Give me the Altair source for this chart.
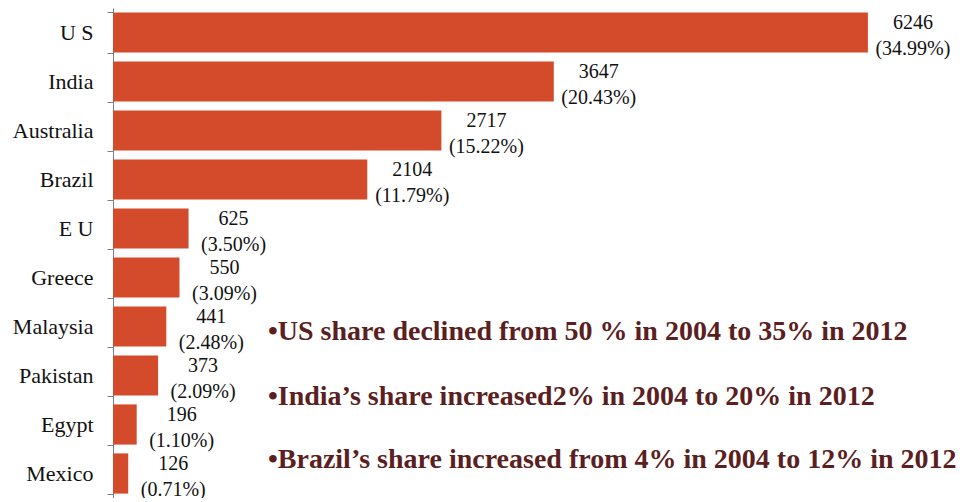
import altair as alt
import pandas as pd

countries = ["U S", "India", "Australia", "Brazil", "E U", "Greece",
             "Malaysia", "Pakistan", "Egypt", "Mexico"]
values = [6246, 3647, 2717, 2104, 625, 550, 441, 373, 196, 126]
shares = ["34.99%", "20.43%", "15.22%", "11.79%", "3.50%", "3.09%",
          "2.48%", "2.09%", "1.10%", "0.71%"]
notes = [
    "•US  share declined from 50 % in 2004 to 35% in 2012",
    "•India’s share increased2% in 2004 to 20% in 2012",
    "•Brazil’s share increased from 4% in 2004 to 12% in 2012",
]
note_y = [332, 397, 460]

df = pd.DataFrame({
    "country": countries,
    "value": values,
    "label": [f"{v}\n({s})" for v, s in zip(values, shares)],
})
notes_df = pd.DataFrame({"note": notes, "py": note_y})

SERIF = "Liberation Serif"

y = alt.Y(
    "country:N", sort=countries,
    scale=alt.Scale(paddingInner=0.18, paddingOuter=0.09),
    axis=alt.Axis(title=None, tickBand="extent", domainColor="#808080",
                  tickColor="#808080", tickSize=6, labelPadding=14,
                  labelFont=SERIF, labelFontSize=22, labelColor="#111111"),
)
x = alt.X("value:Q", scale=alt.Scale(domain=[0, 6950], nice=False), axis=None)

bars = alt.Chart(df).mark_bar(color="#D34B2A").encode(x=x, y=y)

labels = alt.Chart(df).mark_text(
    align="center", baseline="middle", dx=45, dy=-10, lineBreak="\n",
    lineHeight=26, font=SERIF, fontSize=20, color="#111111",
).encode(x=x, y=y, text="label:N")

annot = alt.Chart(notes_df).mark_text(
    align="left", baseline="alphabetic", font=SERIF, fontWeight="bold",
    fontSize=28, color="#5B1F1F",
).encode(x=alt.value(155), y=alt.Y("py:Q", scale=None), text="note:N")

chart = (
    alt.layer(bars, labels, annot)
    .properties(width=840, height=490, background="white",
                padding={"left": 105, "top": 0, "right": 4, "bottom": 0},
                autosize=alt.AutoSizeParams(type="none"))
    .configure_view(stroke=None)
)

chart.save("out.html", embed_options={"renderer": "svg", "actions": False})
